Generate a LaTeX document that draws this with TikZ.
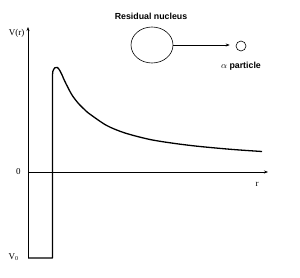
\documentclass[tikz,border=0pt]{standalone}
\usepackage{fontspec}
\setmainfont{Liberation Serif}
\setsansfont{Liberation Sans}
\usetikzlibrary{arrows.meta,shapes.geometric}
\begin{document}
\begin{tikzpicture}[x=1pt,y=-1pt,
  axis/.style={line width=0.7pt,-{Stealth[length=4pt,width=3pt]}},
  pot/.style={line width=1.3pt,line join=round},
  lbl/.style={font=\fontsize{9}{10}\selectfont,inner sep=0pt},
  slbl/.style={font=\sffamily\bfseries\fontsize{8.8}{10}\selectfont,inner sep=0pt}]
\useasboundingbox (0,0) rectangle (300,278);
% axes
\coordinate (O) at (28,172);
\coordinate (ytop) at (28,27);
\coordinate (ybot) at (28,258);
\coordinate (xend) at (268,172);
\draw[line width=0.7pt] (ybot) -- (O);
\draw[axis] (O) -- (ytop);
\draw[axis] (O) -- (xend);
% potential well and Coulomb barrier
\coordinate (wb) at (52.5,258);
\coordinate (wt) at (52.5,77);
\draw[pot] (ybot) -- (wb) -- (wt)
  -- plot[smooth,tension=0.5] coordinates {(52.5,77) (52.8,71.5) (54.8,67.8) (57.3,67.4) (59.8,70.5) (62.5,76) (65,81.7) (71.7,94.5) (78.3,103.3) (85,110) (90,114.2) (106.7,125.5) (125,133) (150,139.5) (175,143.5) (200,146.5) (233,149.5) (262,151.5)};
% labels
\node[lbl,anchor=east] (lV) at (24.5,33) {V(r)};
\node[lbl] (l0) at (18.5,172) {0};
\node[lbl] (lr) at (257,184) {r};
\node[lbl] (lV0) at (13.5,257.5) {V\textsubscript{0}};
% nuclei
\node[slbl] (tres) at (151,16) {Residual nucleus};
\node[draw,line width=0.6pt,ellipse,minimum width=42pt,minimum height=36pt,inner sep=0pt] (res) at (152,45) {};
\node[draw,line width=0.6pt,circle,minimum size=10pt,inner sep=0pt] (alpha) at (241,46) {};
\node[slbl] (talpha) at (241,66) {$\alpha$ particle};
\draw[line width=0.5pt,-{Stealth[length=4pt,width=3pt]},shorten >=6pt] (res.east) -- (res.east -| alpha.west);
\end{tikzpicture}
\end{document}
